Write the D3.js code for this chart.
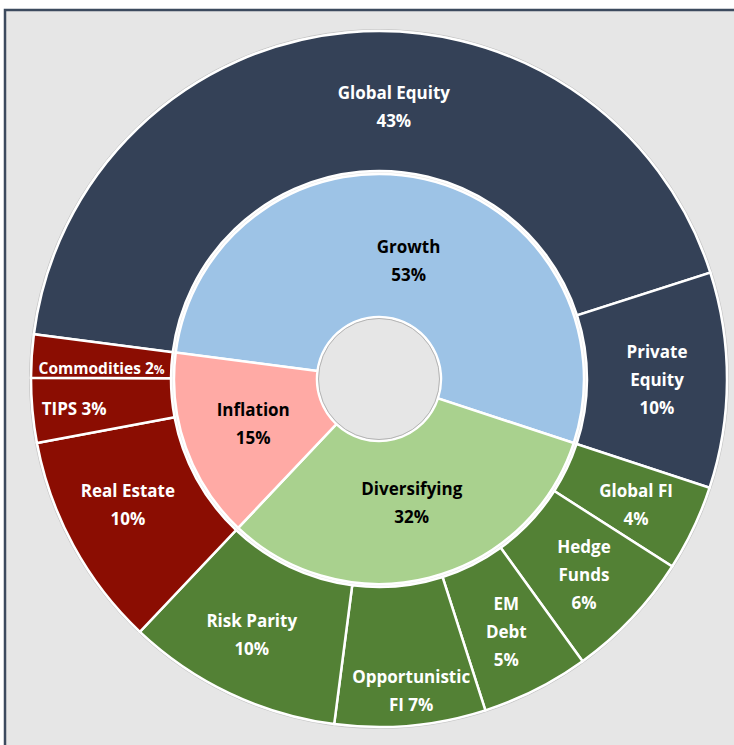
<!DOCTYPE html>
<meta charset="utf-8">
<script src="https://d3js.org/d3.v7.min.js"></script>
<style>
	body{
		margin:0;
		background:#fff;
		font-family: 'Open Sans', sans-serif;
	}
</style>
<div id="chart"></div>
<script>
	// inner ring: asset groups
	var groups = ["Growth","Diversifying","Inflation"]
	var groupValues = [53,32,15]
	var groupColors = ["#9dc3e6","#a9d18e","#ffaaa5"]

	// outer ring: asset classes, same order as the groups
	var classes = ["Global Equity","Private Equity","Global FI","Hedge Funds","EM Debt","Opportunistic FI","Risk Parity","Real Estate","TIPS","Commodities"]
	var classValues = [43,10,4,6,5,7,10,10,3,2]
	var classGroup = ["Growth","Growth","Diversifying","Diversifying","Diversifying","Diversifying","Diversifying","Inflation","Inflation","Inflation"]
	var outerColors = {"Growth":"#344157","Diversifying":"#538135","Inflation":"#8b0d02"}

	// how each label is broken into lines
	var classLines = {
		"Global Equity":["Global Equity","43%"],
		"Private Equity":["Private","Equity","10%"],
		"Global FI":["Global FI","4%"],
		"Hedge Funds":["Hedge","Funds","6%"],
		"EM Debt":["EM","Debt","5%"],
		"Opportunistic FI":["Opportunistic","FI 7%"],
		"Risk Parity":["Risk Parity","10%"],
		"Real Estate":["Real Estate","10%"],
		"TIPS":["TIPS 3%"],
		"Commodities":["Commodities 2%"]
	}
	// small nudges where the label sits off the centroid
	var labelNudge = {"Global Equity":[40,5],"Global FI":[6,7],"Hedge Funds":[3,5],"EM Debt":[2,5],
		"Opportunistic FI":[7,35],"Risk Parity":[-8,5],"Real Estate":[-7,-7],"TIPS":[-28,5],"Commodities":[0,8],
		"Growth":[0,12],"Diversifying":[0,-5]}

	var w = 734, h = 745
	var cx = 379, cy = 379
	var holeR = 62, innerR = 205, outerIn = 208, outerR = 348
	var startAngle = -82.6*Math.PI/180

	var svg = d3.select("#chart").append("svg").attr("width",w).attr("height",h)

	// frame
	svg.append("rect").attr("x",5).attr("y",10).attr("width",w+20).attr("height",h+20)
		.attr("fill","#e6e6e6").attr("stroke","#3c4a5e").attr("stroke-width",2.5)

	var pie = d3.pie().sort(null).value(function(d){return d.v})
		.startAngle(startAngle).endAngle(startAngle+2*Math.PI)

	var innerData = pie(groups.map(function(g,i){return {name:g,v:groupValues[i],color:groupColors[i]}}))
	var outerData = pie(classes.map(function(c,i){return {name:c,v:classValues[i],color:outerColors[classGroup[i]]}}))

	var innerArc = d3.arc().innerRadius(holeR).outerRadius(innerR)
	var outerArc = d3.arc().innerRadius(outerIn).outerRadius(outerR)

	var g = svg.append("g").attr("transform","translate("+cx+","+cy+")")

	// soft grey edge round the rings
	g.append("circle").attr("r",outerR+1.5).attr("fill","none").attr("stroke","#c8c8c8").attr("stroke-width",1)

	g.selectAll(".outerSlice").data(outerData).join("path")
		.attr("class","outerSlice")
		.attr("d",outerArc)
		.attr("fill",function(d){return d.data.color})
		.attr("stroke","#fff").attr("stroke-width",2.5)

	g.selectAll(".innerSlice").data(innerData).join("path")
		.attr("class","innerSlice")
		.attr("d",innerArc)
		.attr("fill",function(d){return d.data.color})
		.attr("stroke","#fff").attr("stroke-width",2.5)

	// centre hole
	g.append("circle").attr("r",holeR-1.5).attr("fill","#e6e6e6").attr("stroke","#b4b4b4").attr("stroke-width",1)

	var lineH = 28

	function drawLabel(sel, lines, pos, color, size){
		var t = sel.append("text")
			.attr("text-anchor","middle")
			.attr("fill",color)
			.style("font-size",size+"px")
			.style("font-weight","700")
		var top = pos[1] - (lines.length-1)*lineH/2
		lines.forEach(function(l,i){
			var ts = t.append("tspan").attr("x",pos[0]).attr("y",top+i*lineH).attr("dy","0.35em")
			if(l=="Commodities 2%"){
				ts.text("Commodities 2")
				t.append("tspan").style("font-size","12px").text("%")
			}else{
				ts.text(l)
			}
		})
	}

	outerData.forEach(function(d){
		var c = outerArc.centroid(d)
		var n = labelNudge[d.data.name] || [0,0]
		var size = d.data.name=="Commodities" ? 15.5 : 17
		drawLabel(g, classLines[d.data.name], [c[0]+n[0],c[1]+n[1]], "#fff", size)
	})

	innerData.forEach(function(d){
		var c = innerArc.centroid(d)
		var n = labelNudge[d.data.name] || [0,0]
		drawLabel(g, [d.data.name, d.data.v+"%"], [c[0]+n[0],c[1]+n[1]], "#000", 17)
	})
</script>
